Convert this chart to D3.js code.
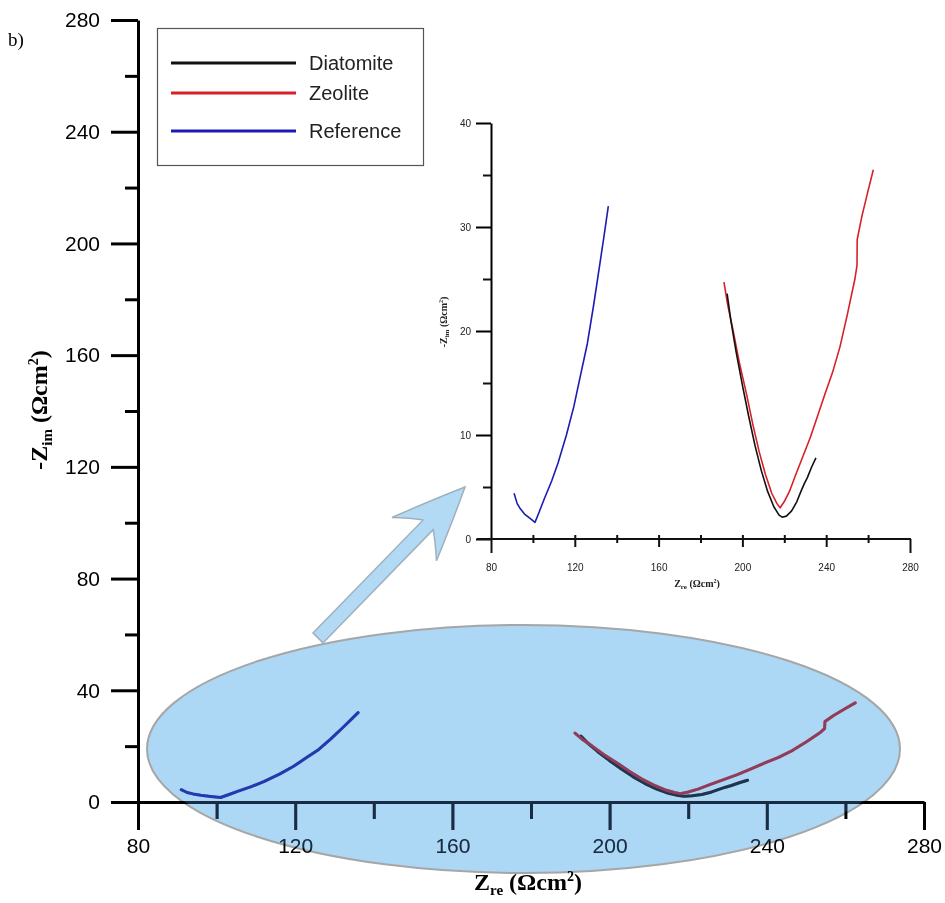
<!DOCTYPE html>
<html><head><meta charset="utf-8">
<script src="https://cdn.jsdelivr.net/npm/d3@7"></script>
<style>
body{margin:0;background:#fff;}
svg{display:block;}
</style></head>
<body>
<svg id="c" width="945" height="903"></svg>
<script>
// ---- data ----
const seriesNames = ["Diatomite", "Zeolite", "Reference"];
const seriesColors = ["#111111", "#d8202a", "#1c1cb4"];
const refX = [91.0, 92.5, 94.0, 96.0, 98.5, 101.0, 103.0, 105.5, 109.0, 112.0, 116.0, 119.5, 123.0, 126.0, 129.0, 132.0, 134.0, 136.0];
const refY = [4.4, 3.4, 2.9, 2.4, 2.0, 1.6, 2.6, 3.9, 5.6, 7.3, 10.0, 12.7, 16.0, 18.8, 22.5, 26.5, 29.2, 32.0];
const zeoX = [191.2, 193.0, 195.5, 198.5, 202.0, 205.0, 208.0, 211.0, 214.0, 216.5, 218.0, 220.0, 222.5, 225.5, 229.0, 232.5, 236.0, 239.5, 243.0, 246.6, 250.0, 253.7, 254.7, 254.8, 257.0, 260.0, 262.5];
const zeoY = [24.7, 22.5, 20.1, 17.0, 13.9, 11.0, 8.4, 6.2, 4.4, 3.4, 3.0, 3.6, 4.6, 6.2, 8.0, 9.8, 11.9, 14.0, 16.0, 18.5, 21.5, 25.0, 26.3, 28.8, 31.0, 33.5, 35.5];
const diaX = [192.7, 194.5, 197.0, 200.0, 203.0, 206.0, 209.0, 212.0, 215.0, 217.5, 219.0, 221.0, 223.5, 226.0, 228.0, 229.5, 231.0, 233.0, 235.1];
const diaY = [23.6, 21.0, 18.0, 14.8, 11.8, 9.0, 6.6, 4.6, 3.1, 2.3, 2.1, 2.2, 2.7, 3.6, 4.6, 5.3, 5.9, 6.9, 7.8];
const mainXTicks = [80, 120, 160, 200, 240, 280];
const mainXMinor = [100, 140, 180, 220, 260];
const mainYTicks = [0, 40, 80, 120, 160, 200, 240, 280];
const mainYMinor = [20, 60, 100, 140, 180, 220, 260];
const insetXTicks = [80, 120, 160, 200, 240, 280];
const insetXMinor = [100, 140, 180, 220, 260];
const insetYTicks = [0, 10, 20, 30, 40];
const insetYMinor = [5, 15, 25, 35];

const series = [
  {name: "Diatomite", color: seriesColors[0], pts: diaX.map((x, i) => [x, diaY[i]])},
  {name: "Zeolite", color: seriesColors[1], pts: zeoX.map((x, i) => [x, zeoY[i]])},
  {name: "Reference", color: seriesColors[2], pts: refX.map((x, i) => [x, refY[i]])}
];

const svg = d3.select("#c");
const sans = "'Liberation Sans', Arial, sans-serif";
const serif = "'Liberation Serif', 'Times New Roman', serif";
svg.append("rect").attr("width", 945).attr("height", 903).attr("fill", "#fff");

// ---- main scales ----
const x = d3.scaleLinear().domain([80, 280]).range([138, 924]);
const y = d3.scaleLinear().domain([0, 280]).range([802, 20]);

// ellipse geometry (decoration)
const E = {cx: 523.5, cy: 749, rx: 376.5, ry: 124};

// main axes
function styleAxis(g, sw) {
  g.select(".domain").attr("stroke", "#000").attr("stroke-width", sw);
  g.selectAll(".tick line").attr("stroke", "#000").attr("stroke-width", sw);
}
const gyMinor = svg.append("g").attr("transform", `translate(${x(80)},0)`)
  .call(d3.axisLeft(y).tickValues(mainYMinor).tickSize(13).tickFormat(""));
gyMinor.select(".domain").remove();
gyMinor.selectAll(".tick line").attr("stroke", "#000").attr("stroke-width", 3);
const gy = svg.append("g").attr("transform", `translate(${x(80)},0)`)
  .call(d3.axisLeft(y).tickValues(mainYTicks).tickSize(27).tickSizeOuter(0).tickPadding(11));
styleAxis(gy, 3);
gy.selectAll(".tick text").attr("font-family", sans).attr("font-size", 21).attr("fill", "#000");

const gxMinor = svg.append("g").attr("transform", `translate(0,${y(0)})`)
  .call(d3.axisBottom(x).tickValues(mainXMinor).tickSize(17).tickFormat(""));
gxMinor.select(".domain").remove();
gxMinor.selectAll(".tick line").attr("stroke", "#000").attr("stroke-width", 3);
const gx = svg.append("g").attr("transform", `translate(0,${y(0)})`)
  .call(d3.axisBottom(x).tickValues(mainXTicks).tickSize(28).tickSizeOuter(0).tickPadding(8));
styleAxis(gx, 3);
gx.selectAll(".tick text").attr("font-family", sans).attr("font-size", 21).attr("fill", "#000");

// main curves
const line = d3.line().x(d => x(d[0])).y(d => y(d[1]));
series.forEach(s => {
  svg.append("path").datum(s.pts).attr("d", line).attr("fill", "none")
    .attr("stroke", s.color).attr("stroke-width", 3).attr("stroke-linejoin", "round").attr("stroke-linecap", "round");
});

// axis titles
const yt = svg.append("text").attr("transform", "translate(47,410) rotate(-90)")
  .attr("text-anchor", "middle").attr("font-family", serif).attr("font-weight", "bold").attr("font-size", 24).attr("fill", "#000");
yt.append("tspan").text("-Z");
yt.append("tspan").text("im").attr("font-size", 15).attr("dy", 5);
yt.append("tspan").text(" (Ωcm").attr("dy", -5);
yt.append("tspan").text("2").attr("font-size", 14).attr("dy", -9);
yt.append("tspan").text(")").attr("dy", 9);

const xt = svg.append("text").attr("x", 528).attr("y", 890)
  .attr("text-anchor", "middle").attr("font-family", serif).attr("font-weight", "bold").attr("font-size", 24).attr("fill", "#000");
xt.append("tspan").text("Z");
xt.append("tspan").text("re").attr("font-size", 15).attr("dy", 5);
xt.append("tspan").text(" (Ωcm").attr("dy", -5);
xt.append("tspan").text("2").attr("font-size", 14).attr("dy", -9);
xt.append("tspan").text(")").attr("dy", 9);

// translucent ellipse over the lower part of the plot
svg.append("ellipse").attr("cx", E.cx).attr("cy", E.cy).attr("rx", E.rx).attr("ry", E.ry)
  .attr("fill", "#acd7f5").attr("stroke", "#a6a6a6").attr("stroke-width", 2)
  .style("mix-blend-mode", "multiply");
svg.append("ellipse").attr("cx", E.cx).attr("cy", E.cy).attr("rx", E.rx - 1.5).attr("ry", E.ry - 1.5)
  .attr("fill", "#3c6ea8").attr("opacity", 0.4).style("mix-blend-mode", "lighten");

// panel label
svg.append("text").attr("x", 8).attr("y", 46).attr("font-family", serif).attr("font-size", 19).text("b)");

// legend
const lg = svg.append("g");
lg.append("rect").attr("x", 157.5).attr("y", 28.5).attr("width", 266).attr("height", 137)
  .attr("fill", "#fff").attr("stroke", "#555").attr("stroke-width", 1.2);
const legY = [63, 93, 131];
series.forEach((s, i) => {
  lg.append("line").attr("x1", 171).attr("x2", 296).attr("y1", legY[i]).attr("y2", legY[i])
    .attr("stroke", s.color).attr("stroke-width", 3);
  lg.append("text").attr("x", 309).attr("y", legY[i] + 7).attr("font-family", sans).attr("font-size", 20)
    .attr("fill", "#222").text(s.name);
});

// ---- arrow (decoration) ----
(function () {
  const B = [318, 638], T = [465, 487];
  const dx = T[0] - B[0], dy = T[1] - B[1], L = Math.hypot(dx, dy);
  const u = [dx / L, dy / L], n = [-u[1], u[0]];
  const P = (a, c) => [B[0] + u[0] * a + n[0] * c, B[1] + u[1] * a + n[1] * c];
  const f = p => p[0].toFixed(1) + "," + p[1].toFixed(1);
  const d = "M" + f(P(0, -7)) + " L" + f(P(158, -7)) +
    " Q" + f(P(150, -18)) + " " + f(P(138, -31)) +
    " Q" + f(P(180, -14)) + " " + f(P(L, 0)) +
    " Q" + f(P(180, 14)) + " " + f(P(138, 31)) +
    " Q" + f(P(150, 18)) + " " + f(P(158, 7)) +
    " L" + f(P(0, 7)) + " Z";
  svg.append("path").attr("d", d).attr("fill", "#b2daf4").attr("stroke", "#9fb0bd").attr("stroke-width", 1.5);
})();

// ---- inset ----
const ix = d3.scaleLinear().domain([80, 280]).range([491, 910]);
const iy = d3.scaleLinear().domain([0, 40]).range([539, 123]);
const inset = svg.append("g");

const iyMinor = inset.append("g").attr("transform", `translate(${ix(80)},0)`)
  .call(d3.axisLeft(iy).tickValues(insetYMinor).tickSize(8).tickFormat(""));
iyMinor.select(".domain").remove();
iyMinor.selectAll(".tick line").attr("stroke", "#111").attr("stroke-width", 2);
const iyA = inset.append("g").attr("transform", `translate(${ix(80)},0)`)
  .call(d3.axisLeft(iy).tickValues(insetYTicks).tickSize(15).tickSizeOuter(0).tickPadding(5));
styleAxis(iyA, 2);
iyA.selectAll(".tick text").attr("font-family", sans).attr("font-size", 10).attr("fill", "#222");

const ixMinor = inset.append("g").attr("transform", `translate(0,${iy(0) - 4})`)
  .call(d3.axisBottom(ix).tickValues(insetXMinor).tickSize(8).tickFormat(""));
ixMinor.select(".domain").remove();
ixMinor.selectAll(".tick line").attr("stroke", "#111").attr("stroke-width", 2);
const ixA = inset.append("g").attr("transform", `translate(0,${iy(0) - 4})`)
  .call(d3.axisBottom(ix).tickValues(insetXTicks).tickSize(12).tickSizeOuter(0).tickPadding(17));
ixA.select(".domain").remove();
ixA.selectAll(".tick line").attr("stroke", "#111").attr("stroke-width", 2)
  .attr("y1", d => (d === 80 || d === 280) ? 4 : 0).attr("y2", d => (d === 80 || d === 280) ? 18 : 12);
ixA.selectAll(".tick text").attr("font-family", sans).attr("font-size", 10).attr("fill", "#222");
inset.append("line").attr("x1", ix(80) - 14).attr("x2", ix(280) + 1).attr("y1", iy(0)).attr("y2", iy(0))
  .attr("stroke", "#111").attr("stroke-width", 2);

const iline = d3.line().x(d => ix(d[0])).y(d => iy(d[1]));
[series[1], series[0], series[2]].forEach(s => {
  inset.append("path").datum(s.pts).attr("d", iline).attr("fill", "none")
    .attr("stroke", s.color).attr("stroke-width", 1.6).attr("stroke-linejoin", "round");
});

const iyt = inset.append("text").attr("transform", "translate(447,322) rotate(-90)")
  .attr("text-anchor", "middle").attr("font-family", serif).attr("font-weight", "bold").attr("font-size", 10).attr("fill", "#222");
iyt.append("tspan").text("-Z");
iyt.append("tspan").text("im").attr("font-size", 7).attr("dy", 2);
iyt.append("tspan").text(" (Ωcm").attr("dy", -2);
iyt.append("tspan").text("2").attr("font-size", 6).attr("dy", -4);
iyt.append("tspan").text(")").attr("dy", 4);

const ixt = inset.append("text").attr("x", 697).attr("y", 587)
  .attr("text-anchor", "middle").attr("font-family", serif).attr("font-weight", "bold").attr("font-size", 10).attr("fill", "#222");
ixt.append("tspan").text("Z");
ixt.append("tspan").text("re").attr("font-size", 7).attr("dy", 2);
ixt.append("tspan").text(" (Ωcm").attr("dy", -2);
ixt.append("tspan").text("2").attr("font-size", 6).attr("dy", -4);
ixt.append("tspan").text(")").attr("dy", 4);
</script>
</body></html>
